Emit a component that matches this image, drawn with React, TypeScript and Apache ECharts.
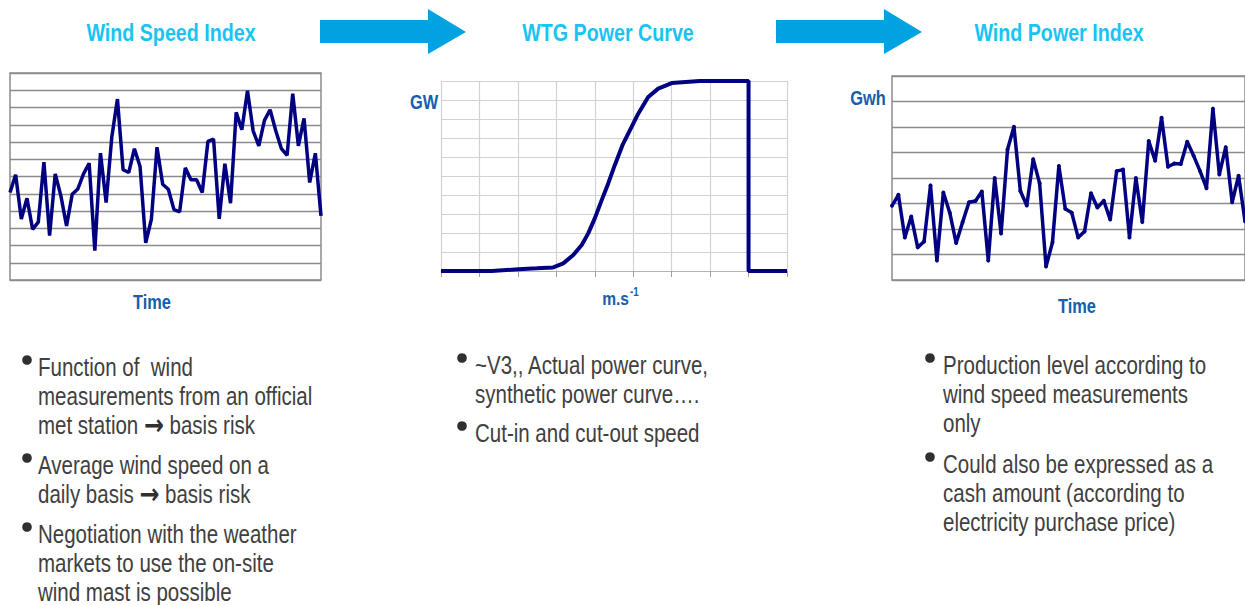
import React, { useEffect, useRef } from "react";
import * as echarts from "echarts";

// ---------- data ----------
const panelTitles = ["Wind Speed Index", "WTG Power Curve", "Wind Power Index"];

const windSpeedIndex = [
  5.07, 6.1, 3.54, 4.74, 2.94, 3.35, 6.83, 2.57, 6.15, 4.88, 3.14, 4.97, 5.28, 6.15,
  6.77, 1.7, 7.35, 4.49, 8.28, 10.49, 6.39, 6.23, 7.61, 6.58, 2.15, 3.52, 7.7, 5.55,
  5.26, 4.08, 3.95, 6.5, 5.81, 5.81, 5.07, 8.03, 8.17, 3.54, 6.74, 4.45, 9.72, 8.71,
  10.97, 8.65, 7.78, 9.25, 9.87, 8.65, 7.61, 7.22, 10.8, 7.78, 9.37, 5.65, 7.35, 3.72,
];

const windPowerIndex = [
  2.91, 3.34, 1.67, 2.49, 1.28, 1.51, 3.71, 0.76, 3.43, 2.64, 1.45, 2.27, 3.05, 3.1,
  3.47, 0.76, 4.0, 1.82, 5.12, 6.01, 3.49, 2.92, 4.74, 3.79, 0.53, 1.47, 4.47, 2.79,
  2.64, 1.67, 1.9, 3.4, 2.84, 3.11, 2.37, 4.27, 4.33, 1.67, 4.0, 2.27, 5.45, 4.68,
  6.36, 4.44, 4.57, 4.55, 5.42, 4.87, 4.27, 3.6, 6.72, 4.14, 5.21, 3.05, 4.09, 2.3,
];

const timeSteps = windSpeedIndex.map((_, i) => String(i + 1));

const curveSpeed = [
  0, 1.32, 2.02, 2.49, 2.92, 3.18, 3.44, 3.66, 3.83, 4.0, 4.18, 4.35, 4.52, 4.72, 5.0,
  5.13, 5.39, 5.65, 6.0, 6.73, 8.0, 8.0, 9.0,
];
const curvePower = [
  0, 0, 0.09, 0.14, 0.19, 0.4, 0.84, 1.37, 1.98, 2.77, 3.73, 4.61, 5.57, 6.62, 7.76,
  8.28, 9.16, 9.6, 9.89, 10, 10, 0, 0,
];

// "{arr|→}" marks the bold arrow glyph inside the text
const bulletsLeft = [
  ["Function of  wind", "measurements from an official", "met station {arr|\u2192} basis risk"],
  ["Average wind speed on a", "daily basis {arr|\u2192} basis risk"],
  ["Negotiation with the weather", "markets to use the on-site", "wind mast is possible"],
];
const bulletsMiddle = [
  ["~V3,, Actual power curve,", "synthetic power curve\u2026."],
  ["Cut-in and cut-out speed"],
];
const bulletsRight = [
  ["Production level according to", "wind speed measurements", "only"],
  ["Could also be expressed as a", "cash amount (according to", "electricity purchase price)"],
];

// ---------- style ----------
const SANS = "'Liberation Sans', Arial, sans-serif";
const NARROW_SCALE = 0.82;
const TITLE_COLOR = "#19C3F3";
const ARROW_COLOR = "#00A3E0";
const AXIS_TEXT = "#1560AC";
const BODY_TEXT = "#404040";
const NAVY = "#000080";
const DARK_GRID = "#8c8c8c";
const LIGHT_GRID = "#d2d2d2";
const LINE_H = 29;

function bulletGraphics(
  bullets: string[][],
  dotX: number,
  textX: number,
  firstY: number,
  gap: number
) {
  const out: any[] = [];
  let y = firstY;
  bullets.forEach((lines) => {
    out.push({
      type: "circle",
      shape: { cx: dotX, cy: y - 7, r: 4.8 },
      style: { fill: "#303030" },
    });
    lines.forEach((line, i) => {
      out.push({
        type: "text",
        x: textX,
        y: y + i * LINE_H,
        scaleX: NARROW_SCALE,
        style: {
          text: line,
          fill: BODY_TEXT,
          fontSize: 25,
          fontFamily: SANS,
          align: "left",
          verticalAlign: "middle",
          rich: {
            arr: {
              fontSize: 29,
              fontWeight: "bold",
              fontFamily: "'DejaVu Sans', sans-serif",
              fill: "#303030",
            },
          },
        },
      });
    });
    y += lines.length * LINE_H + gap;
  });
  return out;
}

export default function App() {
  const ref = useRef<HTMLDivElement>(null);

  useEffect(() => {
    if (!ref.current) return;
    const chart = echarts.init(ref.current, undefined, { renderer: "svg" });

    const timeAxis = (gridIndex: number) => ({
      type: "category" as const,
      gridIndex,
      data: timeSteps,
      boundaryGap: false,
      axisLine: { show: false },
      axisTick: { show: false },
      axisLabel: { show: false },
      splitLine: { show: false },
    });
    const levelAxis = (gridIndex: number, max: number) => ({
      type: "value" as const,
      gridIndex,
      min: 0,
      max,
      interval: 1,
      axisLine: { show: false },
      axisTick: { show: false },
      axisLabel: { show: false },
      splitLine: { show: true, lineStyle: { color: DARK_GRID, width: 1.3 } },
    });

    const arrow = (x0: number, x1: number, tip: number) => ({
      type: "polygon",
      shape: {
        points: [
          [x0, 20], [x1, 20], [x1, 9], [tip, 32], [x1, 54], [x1, 43], [x0, 43],
        ],
      },
      style: { fill: ARROW_COLOR },
    });

    const title = (text: string, x: number) => ({
      type: "text",
      x,
      y: 33,
      scaleX: NARROW_SCALE,
      style: {
        text,
        fill: TITLE_COLOR,
        fontSize: 24,
        fontWeight: "bold",
        fontFamily: SANS,
        align: "center",
        verticalAlign: "middle",
      },
    });

    const axisText = (text: string, x: number, y: number, size = 20, align = "center") => ({
      type: "text",
      x,
      y,
      scaleX: NARROW_SCALE,
      style: {
        text,
        fill: AXIS_TEXT,
        fontSize: size,
        fontWeight: "bold",
        fontFamily: SANS,
        align,
        verticalAlign: "middle",
      },
    });

    chart.setOption({
      animation: false,
      backgroundColor: "#ffffff",
      grid: [
        { left: 10, top: 73, width: 311, height: 207, show: true, borderColor: DARK_GRID, borderWidth: 1.5, backgroundColor: "transparent" },
        { left: 441, top: 81, width: 346, height: 190, show: false },
        { left: 892, top: 76, width: 358, height: 204, show: true, borderColor: DARK_GRID, borderWidth: 1.5, backgroundColor: "transparent" },
      ],
      xAxis: [
        timeAxis(0),
        {
          type: "value",
          gridIndex: 1,
          min: 0,
          max: 9,
          interval: 1,
          axisLine: { show: true, onZero: false, lineStyle: { color: "#b4b4b4", width: 1 } },
          axisTick: { show: true, length: 6, lineStyle: { color: "#a0a0a0" } },
          axisLabel: { show: false },
          splitLine: { show: true, lineStyle: { color: LIGHT_GRID, width: 1.2 } },
        },
        timeAxis(2),
      ],
      yAxis: [
        levelAxis(0, 12),
        {
          type: "value",
          gridIndex: 1,
          min: 0,
          max: 10,
          interval: 1,
          axisLine: { show: false },
          axisTick: { show: false },
          axisLabel: { show: false },
          splitLine: { show: true, lineStyle: { color: LIGHT_GRID, width: 1.2 } },
        },
        levelAxis(2, 8),
      ],
      series: [
        {
          type: "line",
          xAxisIndex: 0,
          yAxisIndex: 0,
          data: windSpeedIndex,
          symbol: "circle",
          symbolSize: 4,
          itemStyle: { color: NAVY },
          lineStyle: { color: NAVY, width: 3.5 },
          clip: false,
        },
        {
          type: "line",
          xAxisIndex: 1,
          yAxisIndex: 1,
          data: curveSpeed.map((s, i) => [s, curvePower[i]]),
          showSymbol: false,
          itemStyle: { color: NAVY },
          lineStyle: { color: NAVY, width: 4 },
          clip: false,
        },
        {
          type: "line",
          xAxisIndex: 2,
          yAxisIndex: 2,
          data: windPowerIndex,
          symbol: "circle",
          symbolSize: 4,
          itemStyle: { color: NAVY },
          lineStyle: { color: NAVY, width: 3.5 },
          clip: false,
        },
      ],
      graphic: [
        title(panelTitles[0], 171),
        title(panelTitles[1], 608),
        title(panelTitles[2], 1059),
        arrow(320, 428, 466),
        arrow(776, 884, 922),
        axisText("Time", 152, 302),
        axisText("GW", 424, 102),
        axisText("Gwh", 868, 98),
        axisText("Time", 1077, 306),
        axisText("m.s", 629, 298, 19, "right"),
        axisText("-1", 630, 292, 12, "left"),
        ...bulletGraphics(bulletsLeft, 27, 38, 367, 11),
        ...bulletGraphics(bulletsMiddle, 462, 475, 365, 10),
        ...bulletGraphics(bulletsRight, 930, 943, 365, 12),
      ],
    });

    return () => chart.dispose();
  }, []);

  return (
    <div
      ref={ref}
      style={{ position: "fixed", left: 0, top: 0, width: 1245, height: 605, background: "#fff" }}
    />
  );
}
